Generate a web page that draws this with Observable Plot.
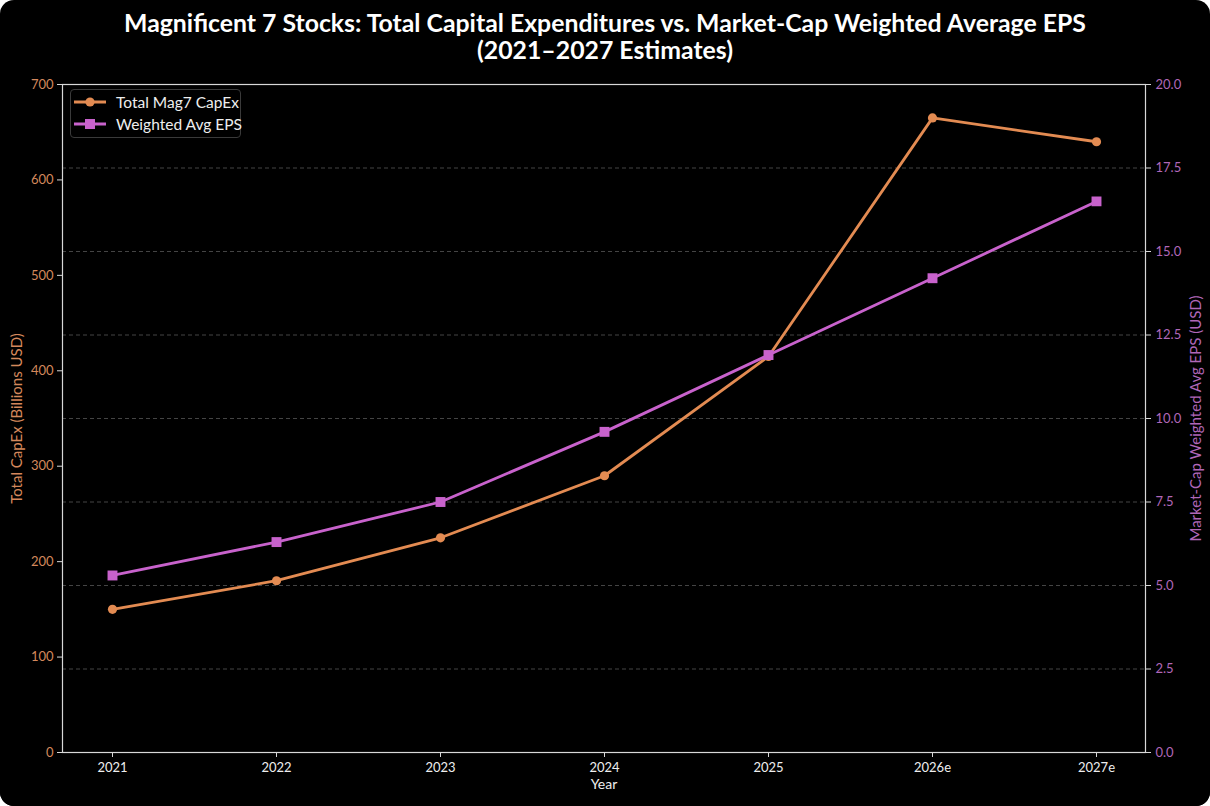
<!DOCTYPE html>
<html>
<head>
<meta charset="utf-8">
<script src="https://cdn.jsdelivr.net/npm/d3@7"></script>
<script src="https://cdn.jsdelivr.net/npm/@observablehq/plot@0.6"></script>
<style>
  html, body { margin: 0; padding: 0; background: #fff; }
  #card { position: relative; width: 1210px; height: 806px; background: #000; border-radius: 14px; overflow: hidden; font-family: Lato, "Noto Sans", sans-serif; }
  #title { position: absolute; left: 0; top: 9px; width: 1210px; text-align: center; color: #fff; font-weight: 700; font-size: 24.8px; line-height: 27px; }
  #chart { position: absolute; left: 0; top: 70px; }
  #legend { position: absolute; left: 70px; top: 89px; width: 171px; height: 49px; box-sizing: border-box; border: 1px solid #3a3a3a; border-radius: 4px; background: #000; color: #eee; font-size: 15.5px; }
  .row { position: absolute; left: 3px; height: 20px; display: flex; align-items: center; white-space: nowrap; width: 170px; }
  .row svg { margin-right: 10px; flex: none; }
</style>
</head>
<body>
<div id="card">
  <div id="title">Magnificent 7 Stocks: Total Capital Expenditures vs. Market-Cap Weighted Average EPS<br>(2021–2027 Estimates)</div>
  <div id="chart"></div>
  <div id="legend"></div>
</div>
<script>
const years = ["2021", "2022", "2023", "2024", "2025", "2026e", "2027e"];
const capex = [150, 180, 225, 290, 415, 665, 640];
const eps = [5.3, 6.3, 7.5, 9.6, 11.9, 14.2, 16.5];
const capexTicks = [0, 100, 200, 300, 400, 500, 600, 700];
const epsTicks = [0, 2.5, 5, 7.5, 10, 12.5, 15, 17.5, 20];
const seriesNames = ["Total Mag7 CapEx", "Weighted Avg EPS"];

const orange = "#e38b52";
const purple = "#c862cc";
const orangeText = "#d4885c";
const purpleText = "#b067b8";
const epsMax = epsTicks[epsTicks.length - 1];
const capMax = capexTicks[capexTicks.length - 1];
const k = capMax / epsMax; // map EPS onto CapEx scale

const data = years.map((y, i) => ({ year: y, capex: capex[i], eps: eps[i] }));
const gridVals = epsTicks.filter(t => t > 0 && t < epsMax);

const chart = Plot.plot({
  width: 1210,
  height: 736,
  marginTop: 14,
  marginBottom: 54,
  marginLeft: 62,
  marginRight: 65,
  style: { background: "#000", color: "#fff", fontFamily: "Lato, 'Noto Sans', sans-serif", fontSize: "13px" },
  x: { type: "point", domain: years, padding: 0.3, label: null },
  y: { domain: [0, capMax], label: null },
  marks: [
    Plot.ruleY(gridVals, { y: d => d * k, stroke: "#555", strokeDasharray: "4,3", strokeWidth: 0.8 }),
    Plot.frame({ stroke: "#d8d8d8", strokeWidth: 1.2 }),
    Plot.axisY(capexTicks, { anchor: "left", tickSize: 5, tickPadding: 4, stroke: "#d8d8d8", fill: orangeText, label: null }),
    Plot.axisY(epsTicks.map(t => t * k), { anchor: "right", tickSize: 5, tickPadding: 5, stroke: "#d8d8d8", fill: purpleText, label: null, tickFormat: d => (d / k).toFixed(1) }),
    Plot.axisX({ anchor: "bottom", tickSize: 5, tickPadding: 5, stroke: "#d8d8d8", fill: "#eee", label: null }),
    Plot.text(["Total CapEx (Billions USD)"], { frameAnchor: "left", textAnchor: "middle", rotate: -90, dx: -45, fill: orangeText, fontSize: 15 }),
    Plot.text(["Market-Cap Weighted Avg EPS (USD)"], { frameAnchor: "right", textAnchor: "middle", rotate: -90, dx: 51, fill: purpleText, fontSize: 15 }),
    Plot.text(["Year"], { frameAnchor: "bottom", dy: 36, fill: "#eee", fontSize: 14 }),
    Plot.line(data, { x: "year", y: "capex", stroke: orange, strokeWidth: 2.8 }),
    Plot.dot(data, { x: "year", y: "capex", fill: orange, r: 4.6, symbol: "circle" }),
    Plot.line(data, { x: "year", y: d => d.eps * k, stroke: purple, strokeWidth: 2.8 }),
    Plot.dot(data, { x: "year", y: d => d.eps * k, fill: purple, r: 5.6, symbol: "square" })
  ]
});
document.getElementById("chart").appendChild(chart);

// legend
const legend = document.getElementById("legend");
[[seriesNames[0], orange, "circle"], [seriesNames[1], purple, "square"]].forEach(([name, col, sym], i) => {
  const row = document.createElement("div");
  row.className = "row";
  row.style.top = (i === 0 ? 2 : 24) + "px";
  const marker = sym === "circle"
    ? `<circle cx="16" cy="10" r="4.6" fill="${col}"/>`
    : `<rect x="11" y="5" width="10" height="10" fill="${col}"/>`;
  row.innerHTML = `<svg width="32" height="20"><line x1="0" x2="32" y1="10" y2="10" stroke="${col}" stroke-width="2.8"/>${marker}</svg><span>${name}</span>`;
  legend.appendChild(row);
});
</script>
</body>
</html>
